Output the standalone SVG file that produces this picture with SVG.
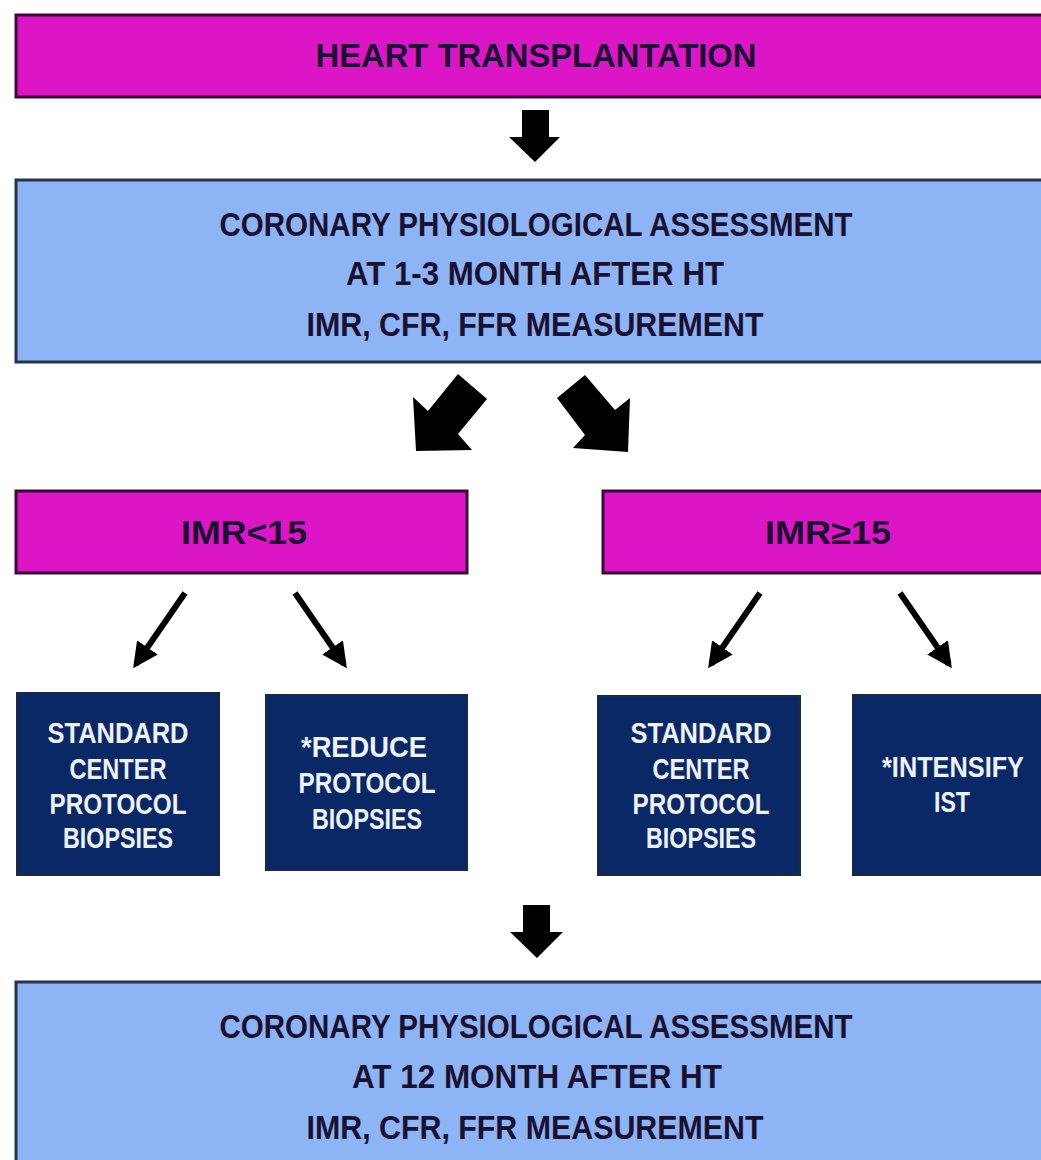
<svg xmlns="http://www.w3.org/2000/svg" width="1041" height="1160" viewBox="0 0 1041 1160">
<style>
.mag{fill:#DC16C6;stroke:#3C0A36;stroke-width:3}
.blue{fill:#8DB4F4;stroke:#2A3448;stroke-width:3}
.navy{fill:#0A2766;stroke:#1C2A40;stroke-width:2}
.t{font-family:"Liberation Sans",Arial,sans-serif;font-weight:bold;text-anchor:middle}
.dk{fill:#1A1030;font-size:33px}
.wh{fill:#EEF2FA;font-size:30px}
.blk{fill:#000}
.thin{stroke:#000;stroke-width:6;fill:none}
</style>
<defs>
<marker id="ah" viewBox="0 0 10 10" refX="8" refY="5" markerWidth="4.2" markerHeight="4.2" orient="auto" markerUnits="strokeWidth">
<path d="M0,0 L10,5 L0,10 z" fill="#000"/>
</marker>
</defs>

<g id="node-heart-transplantation">
<rect class="mag" x="16" y="15" width="1040" height="82"/>
<text class="t dk" x="536" y="67" textLength="441" lengthAdjust="spacingAndGlyphs">HEART TRANSPLANTATION</text>
</g>

<g id="node-assessment-1-3">
<rect class="blue" x="16" y="180" width="1040" height="182"/>
<text class="t dk" x="536" y="236" textLength="633" lengthAdjust="spacingAndGlyphs">CORONARY PHYSIOLOGICAL ASSESSMENT</text>
<text class="t dk" x="535" y="285" textLength="378" lengthAdjust="spacingAndGlyphs">AT 1-3 MONTH AFTER HT</text>
<text class="t dk" x="535" y="336" textLength="457" lengthAdjust="spacingAndGlyphs">IMR, CFR, FFR MEASUREMENT</text>
</g>

<g id="node-imr-lt-15">
<rect class="mag" x="16" y="491" width="451" height="82"/>
<text class="t dk" x="244" y="544" textLength="126" lengthAdjust="spacingAndGlyphs">IMR&lt;15</text>
</g>

<g id="node-imr-ge-15">
<rect class="mag" x="603" y="491" width="453" height="82"/>
<text class="t dk" x="828" y="544" textLength="126" lengthAdjust="spacingAndGlyphs">IMR≥15</text>
</g>

<g id="node-standard-1">
<rect class="navy" x="17" y="693" width="202" height="182"/>
<text class="t wh" x="118" y="743" textLength="141" lengthAdjust="spacingAndGlyphs">STANDARD</text>
<text class="t wh" x="118" y="779" textLength="97" lengthAdjust="spacingAndGlyphs">CENTER</text>
<text class="t wh" x="118" y="814" textLength="137" lengthAdjust="spacingAndGlyphs">PROTOCOL</text>
<text class="t wh" x="118" y="848" textLength="110" lengthAdjust="spacingAndGlyphs">BIOPSIES</text>
</g>

<g id="node-reduce">
<rect class="navy" x="266" y="695" width="201" height="175"/>
<text class="t wh" x="364" y="757" textLength="126" lengthAdjust="spacingAndGlyphs">*REDUCE</text>
<text class="t wh" x="367" y="793" textLength="137" lengthAdjust="spacingAndGlyphs">PROTOCOL</text>
<text class="t wh" x="367" y="829" textLength="110" lengthAdjust="spacingAndGlyphs">BIOPSIES</text>
</g>

<g id="node-standard-2">
<rect class="navy" x="598" y="696" width="202" height="179"/>
<text class="t wh" x="701" y="743" textLength="141" lengthAdjust="spacingAndGlyphs">STANDARD</text>
<text class="t wh" x="701" y="779" textLength="97" lengthAdjust="spacingAndGlyphs">CENTER</text>
<text class="t wh" x="701" y="814" textLength="137" lengthAdjust="spacingAndGlyphs">PROTOCOL</text>
<text class="t wh" x="701" y="848" textLength="110" lengthAdjust="spacingAndGlyphs">BIOPSIES</text>
</g>

<g id="node-intensify">
<rect class="navy" x="853" y="695" width="200" height="180"/>
<text class="t wh" x="953" y="777" textLength="142" lengthAdjust="spacingAndGlyphs">*INTENSIFY</text>
<text class="t wh" x="952" y="812" textLength="36" lengthAdjust="spacingAndGlyphs">IST</text>
</g>

<g id="node-assessment-12">
<rect class="blue" x="16" y="982" width="1040" height="190"/>
<text class="t dk" x="536" y="1038" textLength="633" lengthAdjust="spacingAndGlyphs">CORONARY PHYSIOLOGICAL ASSESSMENT</text>
<text class="t dk" x="537" y="1088" textLength="370" lengthAdjust="spacingAndGlyphs">AT 12 MONTH AFTER HT</text>
<text class="t dk" x="535" y="1139" textLength="457" lengthAdjust="spacingAndGlyphs">IMR, CFR, FFR MEASUREMENT</text>
</g>

<g id="connectors">
<polygon class="blk" points="522,110 549,110 549,137 560,137 535,162 509,137 522,137"/>
<polygon class="blk" points="458,374 487,399 458,434 472,450 416,451 413,397 428,411"/>
<polygon class="blk" points="585,375 557,398 585,435 573,448 628,452 630,398 615,410"/>
<line class="thin" x1="185" y1="593" x2="136" y2="664" marker-end="url(#ah)"/>
<line class="thin" x1="295" y1="593" x2="344" y2="664" marker-end="url(#ah)"/>
<line class="thin" x1="760" y1="593" x2="711" y2="664" marker-end="url(#ah)"/>
<line class="thin" x1="900" y1="593" x2="949" y2="664" marker-end="url(#ah)"/>
<polygon class="blk" points="523,905 550,905 550,932 563,932 537,958 510,932 523,932"/>
</g>
</svg>
